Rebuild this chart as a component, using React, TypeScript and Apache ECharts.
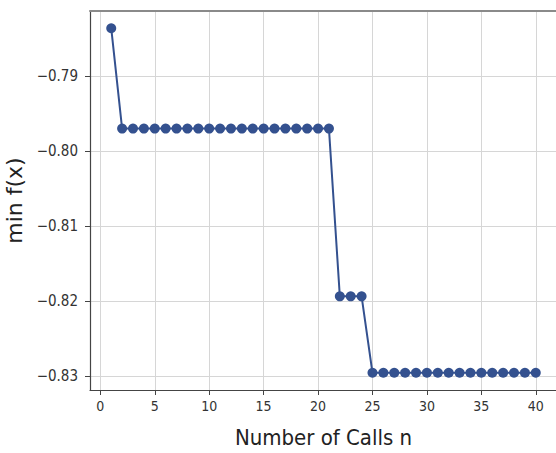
import React, { useEffect, useRef } from "react";
import * as echarts from "echarts";

const calls: number[] = Array.from({ length: 40 }, (_, i) => i + 1);
const minValues: number[] = [
  -0.7836,
  -0.797, -0.797, -0.797, -0.797, -0.797, -0.797, -0.797, -0.797, -0.797, -0.797,
  -0.797, -0.797, -0.797, -0.797, -0.797, -0.797, -0.797, -0.797, -0.797, -0.797,
  -0.8194, -0.8194, -0.8194,
  -0.8296, -0.8296, -0.8296, -0.8296, -0.8296, -0.8296, -0.8296, -0.8296,
  -0.8296, -0.8296, -0.8296, -0.8296, -0.8296, -0.8296, -0.8296, -0.8296,
];
const xTicks: number[] = [0, 5, 10, 15, 20, 25, 30, 35, 40];
const yTicks: number[] = [-0.83, -0.82, -0.81, -0.8, -0.79];

const fmtY = (v: number) => {
  const s = Math.abs(v).toFixed(2);
  return (v < 0 ? "\u2212" : "") + s;
};

export default function App() {
  const ref = useRef<HTMLDivElement>(null);
  useEffect(() => {
    document.body.style.margin = "0";
    if (!ref.current) return;
    const chart = echarts.init(ref.current, undefined, { renderer: "svg" });
    const cond = "DejaVu Sans Condensed, DejaVu Sans";
    const font = "DejaVu Sans";
    chart.setOption({
      animation: false,
      backgroundColor: "#ffffff",
      grid: {
        left: 90,
        top: 11,
        width: 467,
        height: 379,
        containLabel: false,
        outerBoundsMode: "none",
      },
      xAxis: [
        {
          type: "value",
          min: -0.95,
          max: 41.95,
          name: "Number of Calls n",
          nameLocation: "middle",
          nameGap: 36,
          nameTextStyle: { fontFamily: cond, fontSize: 22, color: "#222" },
          axisLine: { show: true, onZero: false, lineStyle: { color: "#444", width: 1.2 } },
          axisTick: { show: true, customValues: xTicks, length: 5, lineStyle: { color: "#444" } },
          axisLabel: {
            customValues: xTicks,
            fontFamily: cond,
            fontSize: 14,
            color: "#333",
            margin: 9,
          },
          splitLine: { show: true, lineStyle: { color: "#d6d6d6", width: 1 } },
        },
        {
          type: "value",
          position: "top",
          min: -0.95,
          max: 41.95,
          axisLine: { show: true, onZero: false, lineStyle: { color: "#8a8a8a", width: 2 } },
          axisTick: { show: false },
          axisLabel: { show: false },
          splitLine: { show: false },
        },
      ],
      yAxis: {
        type: "value",
        min: -0.8319,
        max: -0.7813,
        name: "min f(x)",
        nameLocation: "middle",
        nameGap: 57,
        nameTextStyle: { fontFamily: font, fontSize: 22, color: "#222" },
        axisLine: { show: true, onZero: false, lineStyle: { color: "#444", width: 1.2 } },
        axisTick: { show: true, customValues: yTicks, length: 5, lineStyle: { color: "#444" } },
        axisLabel: {
          customValues: yTicks,
          formatter: (v: number) => fmtY(v),
          fontFamily: cond,
          fontSize: 15,
          color: "#333",
          margin: 12,
        },
        splitLine: { show: true, lineStyle: { color: "#d6d6d6", width: 1 } },
      },
      series: [
        {
          type: "line",
          xAxisIndex: 0,
          data: calls.map((c, i) => [c, minValues[i]]),
          symbol: "circle",
          symbolSize: 10,
          lineStyle: { color: "#34518f", width: 2 },
          itemStyle: { color: "#34518f" },
          clip: false,
        },
      ],
    });
    return () => chart.dispose();
  }, []);
  return <div ref={ref} style={{ width: 556, height: 453 }} />;
}
